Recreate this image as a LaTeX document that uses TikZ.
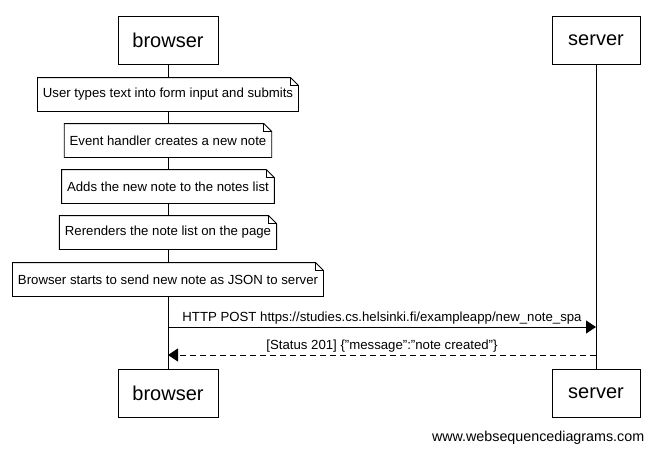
\documentclass[tikz,border=0pt]{standalone}
\usepackage{fontspec}
\setmainfont{Liberation Sans}
\usetikzlibrary{arrows.meta}

\tikzset{
  actor/.style={rectangle,draw,fill=white,minimum height=48pt,inner sep=0pt,font=\fontsize{20}{24}\selectfont},
  note/.style={rectangle,fill=white,minimum height=33pt,inner xsep=5pt,inner ysep=0pt,font=\fontsize{13.2}{15}\selectfont},
  msg/.style={-{Triangle[length=10pt,width=13pt]}},
  reply/.style={msg,dashed,dash pattern=on 6pt off 4pt},
  lbl/.style={font=\fontsize{13.2}{15}\selectfont,above,inner sep=2pt}
}

\begin{document}
\begin{tikzpicture}[x=1pt,y=-1pt,line width=0.9pt]
    \useasboundingbox (0,0) rectangle (653,453);
    \node[actor,minimum width=100pt] (bt) at (168,40) {browser};
    \node[actor,minimum width=88pt] (st) at (596,40) {server};
    \node[actor,minimum width=100pt] (bb) at (168,393) {browser};
    \node[actor,minimum width=88pt] (sb) at (596,393) {server};
    \draw (bt) -- (bb);
    \draw (st) -- (sb);

    \node[note] (n1) at (168,94.5) {User types text into form input and submits};
    \node[note] (n2) at (168,140.5) {Event handler creates a new note};
    \node[note] (n3) at (168,186.5) {Adds the new note to the notes list};
    \node[note] (n4) at (168,232.5) {Rerenders the note list on the page};
    \node[note] (n5) at (168,279.5) {Browser starts to send new note as JSON to server};
    \foreach \n in {n1,n2,n3,n4,n5} {
      \draw (\n.north west) -- ([xshift=-8pt]\n.north east) -- ([yshift=-8pt]\n.north east)
        -- (\n.south east) -- (\n.south west) -- cycle;
      \draw ([xshift=-8pt]\n.north east) -- ([xshift=-8pt,yshift=-8pt]\n.north east) -- ([yshift=-8pt]\n.north east);
    }

    \coordinate (p1) at (168,327);
    \coordinate (q1) at (596,327);
    \coordinate (p2) at (596,355);
    \coordinate (q2) at (168,355);
    \draw[msg] (p1) -- node[lbl] {HTTP POST https://studies.cs.helsinki.fi/exampleapp/new\_note\_spa} (q1);
    \draw[reply] (p2) -- node[lbl] {[Status 201] \{"message":"note created"\}} (q2);

    \node[anchor=east,font=\fontsize{14.3}{16}\selectfont] (wsd) at (648,438) {www.websequencediagrams.com};
\end{tikzpicture}
\end{document}
